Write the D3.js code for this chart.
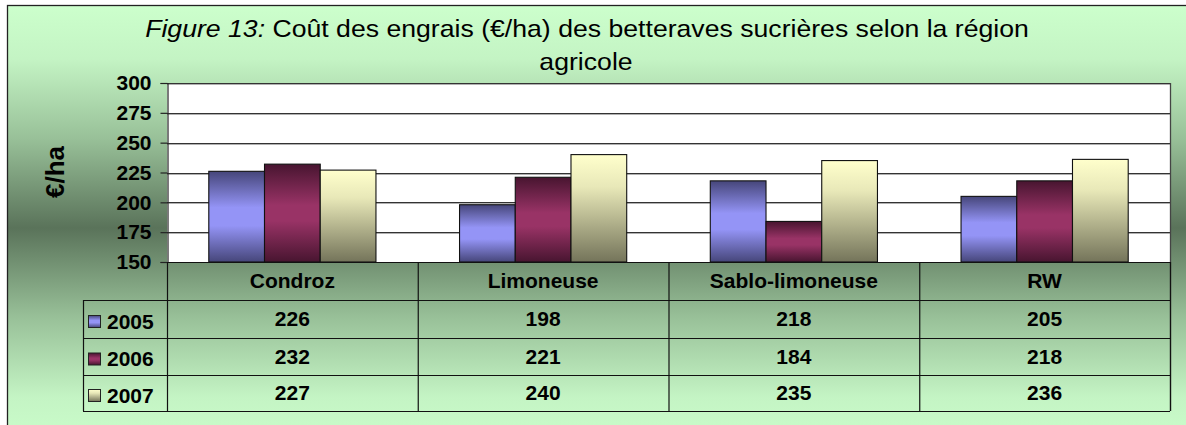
<!DOCTYPE html>
<html>
<head>
<meta charset="utf-8">
<script src="https://cdn.jsdelivr.net/npm/d3@7"></script>
<style>
html,body{margin:0;padding:0;background:#fff;}
svg{display:block;font-family:"Liberation Sans",Arial,sans-serif;}
</style>
</head>
<body>
<svg id="chart" width="1186" height="425"></svg>
<script>
// ---- data ----
const categories = ["Condroz", "Limoneuse", "Sablo-limoneuse", "RW"];
const years = ["2005", "2006", "2007"];
const values2005 = [226, 198, 218, 205];
const values2006 = [232, 221, 184, 218];
const values2007 = [227, 240, 235, 236];
const yTicks = [150, 175, 200, 225, 250, 275, 300];
const titleItalic = "Figure 13:";
const titleLine1 = " Coût des engrais (€/ha) des betteraves sucrières selon la région";
const titleLine2 = "agricole";
const yLabel = "€/ha";

const seriesValues = [values2005, values2006, values2007];

const svg = d3.select("#chart");
const defs = svg.append("defs");

// background gradient
const bg = defs.append("linearGradient").attr("id","bg").attr("x1",0).attr("y1",0).attr("x2",0).attr("y2",1);
[[0,"#ccffcc"],[0.12,"#c4f4c4"],[0.3,"#98c098"],[0.5,"#5a735a"],[0.7,"#98c098"],[0.88,"#c4f4c4"],[1,"#ccffcc"]]
  .forEach(([o,c])=>bg.append("stop").attr("offset",o).attr("stop-color",c));

// bar gradients
function vgrad(id, stops){
  const g = defs.append("linearGradient").attr("id",id).attr("x1",0).attr("y1",0).attr("x2",0).attr("y2",1);
  stops.forEach(([o,c])=>g.append("stop").attr("offset",o).attr("stop-color",c));
}
vgrad("g2005", [[0,"#46467a"],[0.4,"#9494f6"],[0.6,"#9494f6"],[1,"#46467a"]]);
vgrad("g2006", [[0,"#481530"],[0.42,"#993366"],[0.58,"#993366"],[1,"#481530"]]);
vgrad("g2007", [[0,"#ffffcc"],[0.3,"#e8e8b8"],[1,"#74745a"]]);
const fills = ["url(#g2005)","url(#g2006)","url(#g2007)"];

// chart background
svg.append("rect").attr("x",7.5).attr("y",5.5).attr("width",1200).attr("height",445)
  .attr("fill","url(#bg)").attr("stroke","#222").attr("stroke-width",1.3);

// layout
const L = 167, R = 1170, T = 83, B = 262;
const tableLeft = 83;
const rowLines = [262, 300, 338, 375, 411];
const fontSize = 21;

const y = d3.scaleLinear().domain([150,300]).range([B,T]);
const x0 = d3.scaleBand().domain(categories).range([L,R]).paddingInner(0).paddingOuter(0);
const x1 = d3.scaleBand().domain(years).range([0,x0.bandwidth()]).paddingInner(0).paddingOuter(0.75);

// plot area
svg.append("rect").attr("x",L).attr("y",T).attr("width",R-L).attr("height",B-T).attr("fill","#fff");

// gridlines
const grid = svg.append("g");
grid.selectAll("line.g2").data(yTicks.filter(d=>d!==150)).join("line")
  .attr("x1",L).attr("x2",R).attr("y1",d=>Math.round(y(d))+1.5).attr("y2",d=>Math.round(y(d))+1.5)
  .attr("stroke","#b0b0b0").attr("stroke-width",1);
grid.selectAll("line.g").data(yTicks.filter(d=>d!==150)).join("line")
  .attr("x1",L).attr("x2",R).attr("y1",d=>Math.round(y(d))+0.5).attr("y2",d=>Math.round(y(d))+0.5)
  .attr("stroke","#333").attr("stroke-width",1.2);

// bars
const gBars = svg.append("g");
categories.forEach((cat,ci)=>{
  years.forEach((yr,si)=>{
    const v = seriesValues[si][ci];
    gBars.append("rect")
      .attr("x", x0(cat)+x1(yr))
      .attr("y", y(v))
      .attr("width", x1.bandwidth())
      .attr("height", y(150)-y(v))
      .attr("fill", fills[si])
      .attr("stroke","#111").attr("stroke-width",1.1);
  });
});

// right border of plot
svg.append("line").attr("x1",R+0.5).attr("x2",R+0.5).attr("y1",T).attr("y2",rowLines[4]).attr("stroke","#444").attr("stroke-width",1.3);

// y axis
const yAxis = d3.axisLeft(y).tickValues(yTicks).tickSize(7).tickPadding(9).tickFormat(d3.format("d"));
const ax = svg.append("g").attr("transform",`translate(${L+0.5},0)`).call(yAxis);
ax.select(".domain").attr("stroke","#222").attr("stroke-width",1.2);
ax.selectAll(".tick line").attr("stroke","#222").attr("stroke-width",1.2);
ax.selectAll(".tick text").attr("font-size",fontSize).attr("font-weight","bold").attr("fill","#000")
  .attr("font-family","Liberation Sans, Arial, sans-serif");

// data table
const tbl = svg.append("g");
tbl.selectAll("line.h").data(rowLines).join("line")
  .attr("x1",(d,i)=>i===0?L:tableLeft).attr("x2",R)
  .attr("y1",d=>d+0.5).attr("y2",d=>d+0.5)
  .attr("stroke","#111").attr("stroke-width",1.2);
const colEdges = categories.map(c=>x0(c)).concat([R]);
tbl.selectAll("line.v").data(colEdges).join("line")
  .attr("x1",d=>d+0.5).attr("x2",d=>d+0.5)
  .attr("y1",rowLines[0]).attr("y2",rowLines[4])
  .attr("stroke","#111").attr("stroke-width",1.2);
tbl.append("line").attr("x1",tableLeft+0.5).attr("x2",tableLeft+0.5)
  .attr("y1",rowLines[1]).attr("y2",rowLines[4]).attr("stroke","#111").attr("stroke-width",1.2);

// header labels
tbl.selectAll("text.cat").data(categories).join("text")
  .attr("x",d=>x0(d)+x0.bandwidth()/2).attr("y",288)
  .attr("text-anchor","middle").attr("font-size",fontSize).attr("font-weight","bold").text(d=>d);

// values + legend
years.forEach((yr,si)=>{
  const top = rowLines[si+1], bot = rowLines[si+2];
  const mid = (top+bot)/2;
  tbl.selectAll(`text.v${yr}`).data(seriesValues[si]).join("text")
    .attr("x",(d,i)=>x0(categories[i])+x0.bandwidth()/2).attr("y",mid+7)
    .attr("text-anchor","middle").attr("font-size",fontSize).attr("font-weight","bold").text(d=>d);
  tbl.append("rect").attr("x",88.5).attr("y",mid-3.5).attr("width",12).attr("height",12)
    .attr("fill",fills[si]).attr("stroke","#222").attr("stroke-width",1);
  tbl.append("text").attr("x",107).attr("y",mid+9.5)
    .attr("font-size",fontSize).attr("font-weight","bold").text(yr);
});

// title (slightly widened to match the reference)
const title = svg.append("text").attr("transform","translate(587,37) scale(1.11,1)")
  .attr("text-anchor","middle").attr("font-size",24);
title.append("tspan").attr("font-style","italic").text(titleItalic);
title.append("tspan").text(titleLine1);
svg.append("text").attr("transform","translate(586,70) scale(1.11,1)")
  .attr("text-anchor","middle").attr("font-size",24).text(titleLine2);

// y label
svg.append("text").attr("transform","translate(64,172) rotate(-90)")
  .attr("text-anchor","middle").attr("font-size",26).attr("font-weight","bold").text(yLabel);
</script>
</body>
</html>
